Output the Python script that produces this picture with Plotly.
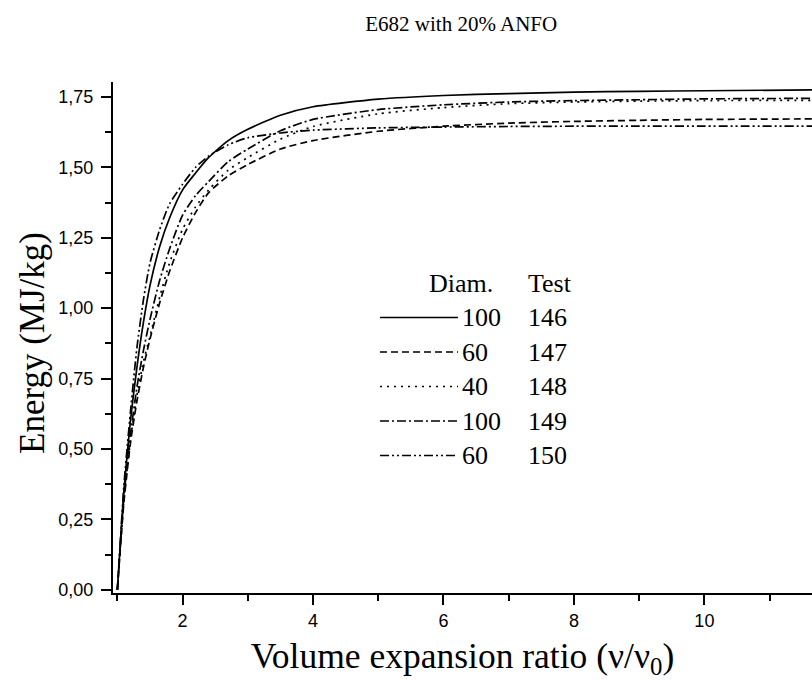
import plotly.graph_objects as go

# Volume expansion ratio (v/v0) sample points
ratio = [1.0, 1.05, 1.1, 1.2, 1.3, 1.4, 1.5, 1.65, 1.8, 2.0, 2.2, 2.4, 2.7,
         3.0, 3.5, 4.0, 5.0, 6.0, 7.0, 8.0, 9.0, 10.0, 11.7]

# Expansion energy (MJ/kg) for each test
energy_146 = [0, 0.18, 0.35, 0.60, 0.79, 0.95, 1.08, 1.22, 1.32, 1.42, 1.48, 1.535, 1.595,
              1.635, 1.685, 1.715, 1.742, 1.755, 1.762, 1.767, 1.770, 1.772, 1.775]
energy_147 = [0, 0.16, 0.31, 0.52, 0.67, 0.79, 0.89, 1.02, 1.13, 1.25, 1.34, 1.41, 1.47,
              1.51, 1.565, 1.595, 1.628, 1.646, 1.657, 1.663, 1.667, 1.670, 1.672]
energy_148 = [0, 0.17, 0.32, 0.53, 0.69, 0.81, 0.90, 1.04, 1.16, 1.28, 1.36, 1.42, 1.49,
              1.535, 1.60, 1.645, 1.69, 1.712, 1.726, 1.732, 1.735, 1.737, 1.738]
energy_149 = [0, 0.17, 0.33, 0.55, 0.72, 0.85, 0.96, 1.10, 1.21, 1.33, 1.40, 1.45, 1.52,
              1.565, 1.63, 1.67, 1.705, 1.722, 1.732, 1.737, 1.740, 1.743, 1.745]
energy_150 = [0, 0.19, 0.37, 0.63, 0.86, 1.03, 1.16, 1.28, 1.37, 1.44, 1.50, 1.54, 1.58,
              1.605, 1.622, 1.632, 1.640, 1.643, 1.645, 1.646, 1.646, 1.646, 1.646]

diameters = ["100", "60", "40", "100", "60"]
tests = ["146", "147", "148", "149", "150"]
series = [energy_146, energy_147, energy_148, energy_149, energy_150]
dash_styles = ["solid", "7px,4px", "2px,5px", "9px,3px,2px,3px", "9px,3px,2px,3px,2px,3px"]

W, H = 812, 680
L, R, T, B = 113, 0, 82, 87


def px_x(px):
    return (px - L) / (W - L - R)


def px_y(py):
    return (H - B - py) / (H - T - B)


fig = go.Figure()
for vals, dash, t in zip(series, dash_styles, tests):
    fig.add_trace(go.Scatter(
        x=ratio, y=vals, mode="lines", name=t,
        line=dict(color="black", width=1.7, dash=dash, shape="spline", smoothing=0.6),
        showlegend=False,
    ))

serif = "Liberation Serif"
sans = "Liberation Sans"
key_font = dict(family=serif, size=26, color="black")

annotations = []
shapes = []
# key block: header row then one row per test
row0 = 283
step = 34.5
annotations.append(dict(x=px_x(427), y=px_y(row0), xref="paper", yref="paper", text="Diam.",
                        showarrow=False, xanchor="left", yanchor="middle", font=key_font))
annotations.append(dict(x=px_x(526), y=px_y(row0), xref="paper", yref="paper", text="Test",
                        showarrow=False, xanchor="left", yanchor="middle", font=key_font))
for i, (d, t, dash) in enumerate(zip(diameters, tests, dash_styles)):
    yy = row0 + step * (i + 1)
    shapes.append(dict(type="line", xref="paper", yref="paper",
                       x0=px_x(380), x1=px_x(458), y0=px_y(yy), y1=px_y(yy),
                       line=dict(color="black", width=1.7, dash=dash)))
    annotations.append(dict(x=px_x(460), y=px_y(yy), xref="paper", yref="paper", text=d,
                            showarrow=False, xanchor="left", yanchor="middle", font=key_font))
    annotations.append(dict(x=px_x(526), y=px_y(yy), xref="paper", yref="paper", text=t,
                            showarrow=False, xanchor="left", yanchor="middle", font=key_font))

# vertical axis title, centred a little below the middle of the plot area
annotations.append(dict(x=px_x(32), y=px_y(343), xref="paper", yref="paper",
                        text="Energy (MJ/kg)", textangle=-90, showarrow=False,
                        xanchor="center", yanchor="middle",
                        font=dict(family=serif, size=35, color="black")))

fig.update_layout(
    width=W, height=H,
    margin=dict(l=L, r=R, t=T, b=B),
    paper_bgcolor="white", plot_bgcolor="white",
    separators=",.",
    title=dict(text="E682 with 20% ANFO", x=0.568, xanchor="center", y=0.965, yanchor="middle",
               font=dict(family=serif, size=21, color="black")),
    xaxis=dict(
        range=[0.933, 11.65], showgrid=False, zeroline=False,
        showline=True, linecolor="black", linewidth=2,
        tickmode="linear", tick0=0, dtick=2, ticks="outside", ticklen=10, tickwidth=1.5,
        tickcolor="black", ticklabelstandoff=0,
        minor=dict(dtick=1, tick0=0, ticks="outside", ticklen=6, tickwidth=1.5, tickcolor="black",
                   showgrid=False),
        tickfont=dict(family=sans, size=18, color="black"),
        title=dict(text="Volume expansion ratio (ν/ν<sub>0</sub>)", standoff=20,
                   font=dict(family=serif, size=35.5, color="black")),
    ),
    yaxis=dict(
        range=[-0.0117, 1.803], showgrid=False, zeroline=False,
        showline=True, linecolor="black", linewidth=2,
        tickmode="linear", tick0=0, dtick=0.25, tickformat=".2f",
        ticks="outside", ticklen=10, tickwidth=1.5, tickcolor="black", ticklabelstandoff=4,
        minor=dict(dtick=0.125, tick0=0, ticks="outside", ticklen=6, tickwidth=1.5,
                   tickcolor="black", showgrid=False),
        tickfont=dict(family=sans, size=18, color="black"),
    ),
    annotations=annotations,
    shapes=shapes,
)

fig.write_html("out.html")
